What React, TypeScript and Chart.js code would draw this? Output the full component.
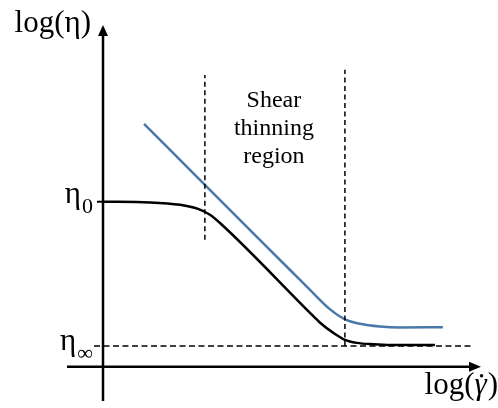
import React, { useEffect, useRef } from "react";
import { Chart, registerables } from "chart.js";

Chart.register(...registerables);

// Data space: x = log(shear rate), y = log(viscosity), arbitrary units
const xLimits = [-1, 10.5];
const yLimits = [-1, 10];

const eta0 = 4.83;
const etaInf = 0.61;

const blackX = [0, 1.31, 2.14, 2.64, 2.97, 3.31, 5.75, 6.03, 6.39, 6.72, 7.05, 7.5, 8.0, 9.22];
const blackY = [4.83, 4.81, 4.74, 4.62, 4.45, 4.15, 1.58, 1.29, 1.0, 0.79, 0.7, 0.66, 0.64, 0.64];

const blueX = [1.14, 2.83, 5.19, 5.75, 6.31, 6.72, 7.14, 7.69, 8.25, 9.44];
const blueY = [7.11, 5.32, 2.84, 2.25, 1.68, 1.39, 1.26, 1.18, 1.15, 1.16];

const regionStartX = 2.83;
const regionStartY = [3.72, 8.54];
const regionEndX = 6.72;
const regionEndY = [etaInf, 8.69];
const etaInfLineX = [-0.25, 10.22];

const regionLabel = ["Shear", "thinning", "region"];

const FONT = "'Liberation Serif', 'DejaVu Serif', serif";

const toPts = (xs: number[], ys: number[]) => xs.map((x, i) => ({ x, y: ys[i] }));

const overlay = {
  id: "overlay",
  afterDatasetsDraw(chart: any) {
    const { ctx, scales } = chart;
    const xs = scales.x;
    const ys = scales.y;
    const px = (v: number) => xs.getPixelForValue(v);
    const py = (v: number) => ys.getPixelForValue(v);
    ctx.save();
    ctx.fillStyle = "#000";
    ctx.strokeStyle = "#000";

    // arrowheads
    const ox = px(0);
    const oy = py(0);
    const topY = py(yLimits[1]);
    const rightX = px(xLimits[1]);
    ctx.beginPath();
    ctx.moveTo(ox, topY);
    ctx.lineTo(ox - 5, topY + 11);
    ctx.lineTo(ox + 5, topY + 11);
    ctx.closePath();
    ctx.fill();
    ctx.beginPath();
    ctx.moveTo(rightX, oy);
    ctx.lineTo(rightX - 12, oy - 5);
    ctx.lineTo(rightX - 12, oy + 5);
    ctx.closePath();
    ctx.fill();

    // eta0 tick
    ctx.lineWidth = 2;
    ctx.beginPath();
    ctx.moveTo(ox - 6, py(eta0));
    ctx.lineTo(ox, py(eta0));
    ctx.stroke();

    // y-axis title
    ctx.textBaseline = "alphabetic";
    ctx.font = `31px ${FONT}`;
    ctx.textAlign = "right";
    ctx.fillText("log(η)", ox - 12, topY + 7);

    // x-axis title: log( γ-dot )
    {
      const right = rightX + 17;
      const base = oy + 27;
      ctx.font = `31px ${FONT}`;
      const wClose = ctx.measureText(")").width;
      const wOpen = ctx.measureText("log(").width;
      ctx.font = `italic 31px ${FONT}`;
      const wG = ctx.measureText("γ").width;
      const start = right - wClose - wG - wOpen - 1;
      ctx.textAlign = "left";
      ctx.font = `31px ${FONT}`;
      ctx.fillText("log(", start, base);
      ctx.font = `italic 31px ${FONT}`;
      ctx.fillText("γ", start + wOpen, base);
      ctx.font = `31px ${FONT}`;
      ctx.fillText(")", start + wOpen + wG + 1, base);
      ctx.beginPath();
      ctx.arc(start + wOpen + wG * 0.58, base - 18, 1.7, 0, Math.PI * 2);
      ctx.fill();
    }

    // eta labels
    const drawSub = (main: string, sub: string, yv: number, mainOff: number, subOff: number, subSize: number) => {
      ctx.font = `${subSize}px ${FONT}`;
      const sw = ctx.measureText(sub).width;
      const right = ox - 10;
      ctx.textAlign = "right";
      ctx.fillText(sub, right, py(yv) + subOff);
      ctx.font = `31px ${FONT}`;
      ctx.fillText(main, right - sw - 1, py(yv) + mainOff);
    };
    drawSub("η", "0", eta0, 1, 11, 22);
    drawSub("η", "∞", etaInf, 4, 14, 22);

    // region label
    ctx.font = `24px ${FONT}`;
    ctx.textAlign = "center";
    ctx.textBaseline = "alphabetic";
    const cx = (px(regionStartX) + px(regionEndX)) / 2 - 1;
    const y0 = py(regionStartY[1]) + 32;
    regionLabel.forEach((t, i) => ctx.fillText(t, cx, y0 + i * 28));
    ctx.restore();
  },
};

export default function App() {
  const ref = useRef<HTMLCanvasElement>(null);
  useEffect(() => {
    if (!ref.current) return;
    const dashed = { borderColor: "#000", borderWidth: 1.5, borderDash: [5, 3.5], pointRadius: 0, showLine: true, fill: false };
    const chart = new Chart(ref.current, {
      type: "scatter",
      data: {
        datasets: [
          { ...dashed, data: toPts(etaInfLineX, [etaInf, etaInf]), borderDash: [6, 3.5] },
          { ...dashed, data: toPts([regionStartX, regionStartX], regionStartY) },
          { ...dashed, data: toPts([regionEndX, regionEndX], regionEndY) },
          { data: toPts([0, 0], [yLimits[0], yLimits[1] - 0.2]), borderColor: "#000", borderWidth: 2.5, pointRadius: 0, showLine: true },
          { data: toPts([xLimits[0], xLimits[1] - 0.2], [0, 0]), borderColor: "#000", borderWidth: 2.5, pointRadius: 0, showLine: true },
          { data: toPts(blueX, blueY), borderColor: "#4a78a8", borderWidth: 2.5, pointRadius: 0, showLine: true, cubicInterpolationMode: "monotone" },
          { data: toPts(blackX, blackY), borderColor: "#000", borderWidth: 2.5, pointRadius: 0, showLine: true, cubicInterpolationMode: "monotone" },
        ] as any,
      },
      options: {
        animation: false,
        responsive: false,
        layout: { padding: { left: 67, right: 17, top: 25, bottom: 7 } },
        plugins: { legend: { display: false }, tooltip: { enabled: false } },
        scales: {
          x: { type: "linear", min: xLimits[0], max: xLimits[1], display: false },
          y: { type: "linear", min: yLimits[0], max: yLimits[1], display: false },
        },
      },
      plugins: [overlay],
    });
    return () => chart.destroy();
  }, []);
  return (
    <div style={{ position: "absolute", left: 0, top: 0, width: 498, height: 408, background: "#fff" }}>
      <canvas ref={ref} width={498} height={408} />
    </div>
  );
}
